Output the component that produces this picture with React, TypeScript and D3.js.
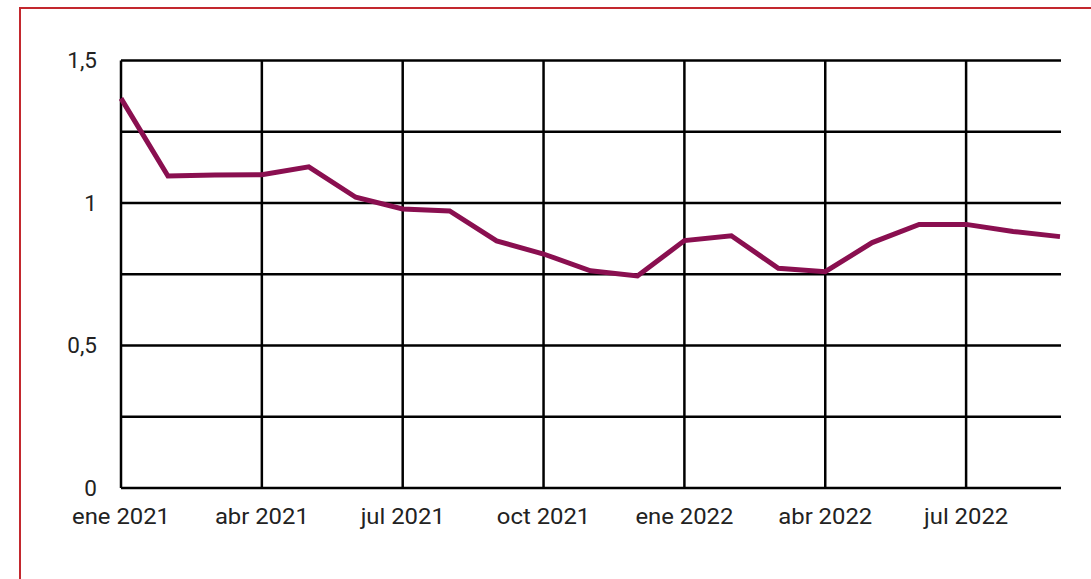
import React from "react";
import * as d3 from "d3";

const months = [
  "ene 2021", "feb 2021", "mar 2021", "abr 2021", "may 2021", "jun 2021",
  "jul 2021", "ago 2021", "sep 2021", "oct 2021", "nov 2021", "dic 2021",
  "ene 2022", "feb 2022", "mar 2022", "abr 2022", "may 2022", "jun 2022",
  "jul 2022", "ago 2022", "sep 2022",
];
const values = [
  1.367, 1.095, 1.098, 1.099, 1.127, 1.02, 0.979, 0.972, 0.867, 0.821,
  0.762, 0.744, 0.868, 0.885, 0.771, 0.759, 0.861, 0.925, 0.925, 0.9, 0.882,
];
const xTickLabels = ["ene 2021", "abr 2021", "jul 2021", "oct 2021", "ene 2022", "abr 2022", "jul 2022"];
const yGrid = [0, 0.25, 0.5, 0.75, 1, 1.25, 1.5];
const yLabels = [0, 0.5, 1, 1.5];

export default function App() {
  const W = 1091, H = 579;
  const left = 121, right = 1060, top = 60.5, bottom = 488;
  const x = d3.scaleLinear().domain([0, months.length - 1]).range([left, right]);
  const y = d3.scaleLinear().domain([0, 1.5]).range([bottom, top]);
  const line = d3.line<number>().x((_, i) => x(i)).y((d) => y(d));
  const fmt = (v: number) => String(v).replace(".", ",");
  const font = "Roboto, 'Noto Sans', sans-serif";
  return (
    <svg width={W} height={H} style={{ position: "absolute", left: 0, top: 0, background: "#fff" }}>
      <rect x={20} y={8} width={1200} height={700} fill="none" stroke="#c3282e" strokeWidth={2} />
      {yGrid.map((v) => (
        <line key={"h" + v} x1={left} x2={right + 1} y1={y(v)} y2={y(v)} stroke="#000" strokeWidth={2.5} />
      ))}
      {xTickLabels.map((lab) => {
        const i = months.indexOf(lab);
        return <line key={"v" + lab} x1={x(i)} x2={x(i)} y1={top} y2={bottom} stroke="#000" strokeWidth={2.5} />;
      })}
      <path d={line(values) || ""} fill="none" stroke="#8a0f50" strokeWidth={5} strokeLinejoin="miter" />
      {yLabels.map((v) => (
        <text key={"yl" + v} x={97} y={y(v)} dy="0.35em" textAnchor="end" fontFamily={font} fontSize={22.5} fill="#222">
          {fmt(v)}
        </text>
      ))}
      {xTickLabels.map((lab) => {
        const i = months.indexOf(lab);
        return (
          <text
            key={"xl" + lab}
            transform={`translate(${x(i)},523.5) scale(1.06,1)`}
            textAnchor="middle"
            fontFamily={font}
            fontSize={22.5}
            fill="#222"
          >
            {lab}
          </text>
        );
      })}
    </svg>
  );
}
